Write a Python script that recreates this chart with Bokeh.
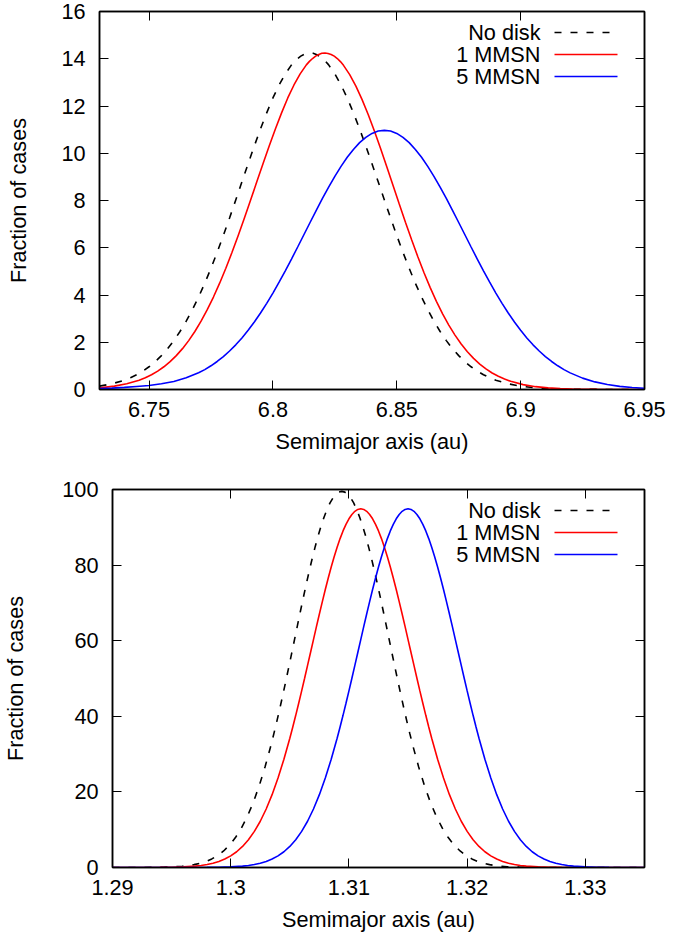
from bokeh.plotting import figure
from bokeh.models import FixedTicker, LinearAxis, Range1d, NumeralTickFormatter
from bokeh.layouts import column
from bokeh.core.properties import value
from bokeh.embed import file_html
from bokeh.resources import INLINE

# ---------------- data ----------------
series_names = ["No disk", "1 MMSN", "5 MMSN"]

# ---- Top panel ----
top_x_nodisk = [6.7300, 6.7350, 6.7400, 6.7425, 6.7450, 6.7475, 6.7500, 6.7525, 6.7550, 6.7575,
                6.7600, 6.7625, 6.7650, 6.7675, 6.7700, 6.7725, 6.7750, 6.7775, 6.7800, 6.7825,
                6.7850, 6.7875, 6.7900, 6.7925, 6.7950, 6.7975, 6.8000, 6.8025, 6.8050, 6.8075,
                6.80875, 6.8100, 6.81125, 6.8125, 6.81375, 6.8150, 6.81625, 6.8175, 6.81875, 6.8200, 6.82125,
                6.8225, 6.8250, 6.8275, 6.8300, 6.8325, 6.8350, 6.8375, 6.8400, 6.8425, 6.8450,
                6.8475, 6.8500, 6.8525, 6.8550, 6.8575, 6.8600, 6.8625, 6.8650, 6.8675, 6.8700,
                6.8725, 6.8750, 6.8775, 6.8800, 6.8825, 6.8850, 6.8875, 6.8900,
                6.8950, 6.9000, 6.9050, 6.9100, 6.9150, 6.9250, 6.9350, 6.9500]
top_y_nodisk = [0.142, 0.240, 0.394, 0.499, 0.626, 0.779, 0.962, 1.179, 1.434, 1.729,
                2.069, 2.455, 2.891, 3.378, 3.914, 4.500, 5.132, 5.807, 6.519, 7.261,
                8.021, 8.791, 9.558, 10.31, 11.03, 11.71, 12.34, 12.89, 13.36, 13.74,
                13.89, 14.01, 14.11, 14.18, 14.23, 14.24, 14.23, 14.18, 14.11, 14.01, 13.89,
                13.74, 13.36, 12.89, 12.34, 11.71, 11.03, 10.31, 9.558, 8.791, 8.021,
                7.261, 6.519, 5.807, 5.132, 4.500, 3.914, 3.378, 2.891, 2.455, 2.069,
                1.729, 1.434, 1.179, 0.962, 0.779, 0.626, 0.499, 0.394,
                0.240, 0.142, 0.081, 0.045, 0.024, 0.006, 0.0015, 0.0]

top_x_1mmsn = [6.7300, 6.7310, 6.7360, 6.7410, 6.7460, 6.7485, 6.7510, 6.7535, 6.7560, 6.7585,
               6.7610, 6.7635, 6.7660, 6.7685, 6.7710, 6.7735, 6.7760, 6.7785, 6.7810, 6.7835,
               6.7860, 6.7885, 6.7910, 6.7935, 6.7960, 6.7985, 6.8010, 6.8035, 6.8060, 6.8085,
               6.8110, 6.8135,
               6.81475, 6.8160, 6.81725, 6.8185, 6.81975, 6.8210, 6.82225, 6.8235, 6.82475, 6.8260, 6.82725,
               6.8285, 6.8310, 6.8335, 6.8360, 6.8385, 6.8410, 6.8435, 6.8460, 6.8485, 6.8510,
               6.8535, 6.8560, 6.8585, 6.8610, 6.8635, 6.8660, 6.8685, 6.8710, 6.8735, 6.8760,
               6.8785, 6.8810, 6.8835, 6.8860, 6.8885, 6.8910, 6.8935, 6.8960,
               6.9010, 6.9060, 6.9110, 6.9160, 6.9210, 6.9310, 6.9410, 6.9500]
top_y_1mmsn = [0.072, 0.081, 0.142, 0.240, 0.394, 0.499, 0.626, 0.779, 0.962, 1.179,
               1.434, 1.729, 2.069, 2.455, 2.891, 3.378, 3.914, 4.500, 5.132, 5.807,
               6.519, 7.261, 8.021, 8.791, 9.558, 10.31, 11.03, 11.71, 12.34, 12.89,
               13.36, 13.74,
               13.89, 14.01, 14.11, 14.18, 14.23, 14.24, 14.22, 14.18, 14.11, 14.01, 13.88,
               13.72, 13.33, 12.84, 12.27, 11.63, 10.93, 10.19, 9.420, 8.637, 7.854,
               7.083, 6.335, 5.620, 4.944, 4.314, 3.733, 3.204, 2.727, 2.302, 1.927,
               1.600, 1.318, 1.076, 0.872, 0.700, 0.558, 0.441, 0.345,
               0.207, 0.120, 0.067, 0.036, 0.019, 0.005, 0.001, 0.0]

top_x_5mmsn = [6.7300, 6.7350, 6.7400, 6.7450, 6.7500, 6.7550, 6.7600, 6.7650, 6.7700,
               6.7725, 6.7750, 6.7775, 6.7800, 6.7825, 6.7850, 6.7875, 6.7900, 6.7925, 6.7950,
               6.7975, 6.8000, 6.8025, 6.8050, 6.8075, 6.8100, 6.8125, 6.8150, 6.8175, 6.8200,
               6.8225, 6.8250, 6.8275, 6.8300, 6.8325, 6.8350, 6.8375, 6.8400, 6.8425, 6.8450,
               6.8475, 6.8500, 6.8525, 6.8550, 6.8575, 6.8600, 6.8625, 6.8650, 6.8675, 6.8700,
               6.8725, 6.8750, 6.8775, 6.8800, 6.8825, 6.8850, 6.8875, 6.8900, 6.8925, 6.8950,
               6.8975, 6.9000, 6.9025, 6.9050, 6.9075, 6.9100, 6.9125, 6.9150, 6.9175, 6.9200,
               6.9250, 6.9300, 6.9350, 6.9400, 6.9450, 6.9500]
top_y_5mmsn = [0.04, 0.06, 0.09, 0.13, 0.17, 0.24, 0.34, 0.50, 0.71,
               0.842, 1.003, 1.186, 1.394, 1.629, 1.891, 2.183, 2.505, 2.856, 3.236,
               3.646, 4.081, 4.541, 5.022, 5.521, 6.032, 6.550, 7.069, 7.583, 8.085,
               8.568, 9.024, 9.446, 9.829, 10.16, 10.45, 10.67, 10.84, 10.94, 10.97,
               10.94, 10.84, 10.67, 10.45, 10.16, 9.829, 9.446, 9.024, 8.568, 8.085,
               7.583, 7.069, 6.550, 6.032, 5.521, 5.022, 4.541, 4.081, 3.646, 3.236,
               2.856, 2.505, 2.183, 1.891, 1.629, 1.394, 1.186, 1.003, 0.842, 0.704,
               0.482, 0.322, 0.210, 0.134, 0.083, 0.050]

# ---- Bottom panel ----
bot_x_nodisk = [1.2900, 1.2914, 1.2924, 1.2934, 1.2944, 1.2954, 1.2959,
                1.2964, 1.2969, 1.2974, 1.2979, 1.2984, 1.2989, 1.2994, 1.2999, 1.3004, 1.3009,
                1.3014, 1.3019, 1.3024, 1.3029, 1.3034,
                1.30365, 1.3039, 1.30415, 1.3044, 1.30465, 1.3049, 1.30515, 1.3054, 1.30565, 1.3059,
                1.30615, 1.3064, 1.30665, 1.3069, 1.30715, 1.3074, 1.30765, 1.3079, 1.30815, 1.3084,
                1.30865, 1.3089, 1.30915, 1.3094, 1.30965, 1.3099, 1.31015, 1.3104, 1.31065, 1.3109,
                1.31115, 1.3114, 1.31165, 1.3119, 1.31215, 1.3124, 1.31265, 1.3129, 1.31315, 1.3134,
                1.31365, 1.3139, 1.31415, 1.3144, 1.31465, 1.3149, 1.31515,
                1.3154, 1.3159, 1.3164, 1.3169, 1.3174, 1.3179, 1.3184, 1.3189, 1.3194, 1.3199,
                1.3204, 1.3209, 1.3214, 1.3219, 1.3224, 1.3229, 1.3234,
                1.3244, 1.3254, 1.3264, 1.3274, 1.3350]
bot_y_nodisk = [0.0, 0.004, 0.012, 0.033, 0.088, 0.218, 0.334,
                0.506, 0.754, 1.105, 1.595, 2.268, 3.174, 4.372, 5.928, 7.916, 10.41,
                13.47, 17.16, 21.52, 26.57, 32.30,
                35.41, 38.66, 42.05, 45.55, 49.16, 52.84, 56.58, 60.35, 64.12, 67.85,
                71.53, 75.11, 78.55, 81.85, 84.94, 87.81, 90.42, 92.74, 94.76, 96.44,
                97.77, 98.73, 99.31, 99.50, 99.31, 98.73, 97.77, 96.44, 94.76, 92.74,
                90.42, 87.81, 84.94, 81.85, 78.55, 75.11, 71.53, 67.85, 64.12, 60.35,
                56.58, 52.84, 49.16, 45.55, 42.05, 38.66, 35.41,
                32.30, 26.57, 21.52, 17.16, 13.47, 10.41, 7.916, 5.928, 4.372, 3.174,
                2.268, 1.595, 1.105, 0.754, 0.506, 0.334, 0.218,
                0.088, 0.033, 0.012, 0.004, 0.0]

bot_x_1mmsn = [1.2900, 1.2920, 1.2930, 1.2940, 1.2950, 1.2960, 1.2970, 1.2975,
               1.2980, 1.2985, 1.2990, 1.2995, 1.3000, 1.3005, 1.3010, 1.3015, 1.3020, 1.3025,
               1.3030, 1.3035, 1.3040, 1.3045, 1.3050,
               1.30525, 1.30550, 1.30575, 1.30600, 1.30625, 1.30650, 1.30675, 1.30700, 1.30725, 1.30750,
               1.30775, 1.30800, 1.30825, 1.30850, 1.30875, 1.30900, 1.30925, 1.30950, 1.30975, 1.31000,
               1.31025, 1.31050, 1.31075, 1.31100, 1.31125, 1.31150, 1.31175, 1.31200, 1.31225, 1.31250,
               1.31275, 1.31300, 1.31325, 1.31350, 1.31375, 1.31400, 1.31425, 1.31450, 1.31475, 1.31500,
               1.31525, 1.31550, 1.31575, 1.31600, 1.31625, 1.31650, 1.31675,
               1.3170, 1.3175, 1.3180, 1.3185, 1.3190, 1.3195, 1.3200, 1.3205, 1.3210, 1.3215,
               1.3220, 1.3225, 1.3230, 1.3235, 1.3240, 1.3245, 1.3250,
               1.3260, 1.3270, 1.3280, 1.3290, 1.3300, 1.3350]
bot_y_1mmsn = [0.0, 0.003, 0.010, 0.026, 0.067, 0.161, 0.367, 0.542,
               0.789, 1.132, 1.602, 2.234, 3.076, 4.170, 5.574, 7.349, 9.554, 12.24,
               15.47, 19.27, 23.66, 28.65, 34.21,
               37.18, 40.26, 43.45, 46.72, 50.06, 53.46, 56.88, 60.30, 63.71, 67.06,
               70.35, 73.53, 76.59, 79.49, 82.21, 84.73, 87.01, 89.04, 90.79, 92.25,
               93.40, 94.23, 94.73, 94.90, 94.73, 94.23, 93.40, 92.25, 90.79, 89.04,
               87.01, 84.73, 82.21, 79.49, 76.59, 73.53, 70.35, 67.06, 63.71, 60.30,
               56.88, 53.46, 50.06, 46.72, 43.45, 40.26, 37.18,
               34.21, 28.65, 23.66, 19.27, 15.47, 12.24, 9.554, 7.349, 5.574, 4.170,
               3.076, 2.234, 1.602, 1.132, 0.789, 0.542, 0.367,
               0.161, 0.067, 0.026, 0.010, 0.003, 0.0]

bot_x_5mmsn = [1.2900, 1.2960, 1.2970, 1.2980, 1.2990, 1.3000, 1.3010, 1.3015,
               1.3020, 1.3025, 1.3030, 1.3035, 1.3040, 1.3045, 1.3050, 1.3055, 1.3060, 1.3065,
               1.3070, 1.3075, 1.3080, 1.3085, 1.3090,
               1.30925, 1.30950, 1.30975, 1.31000, 1.31025, 1.31050, 1.31075, 1.31100, 1.31125, 1.31150,
               1.31175, 1.31200, 1.31225, 1.31250, 1.31275, 1.31300, 1.31325, 1.31350, 1.31375, 1.31400,
               1.31425, 1.31450, 1.31475, 1.31500, 1.31525, 1.31550, 1.31575, 1.31600, 1.31625, 1.31650,
               1.31675, 1.31700, 1.31725, 1.31750, 1.31775, 1.31800, 1.31825, 1.31850, 1.31875, 1.31900,
               1.31925, 1.31950, 1.31975, 1.32000, 1.32025, 1.32050, 1.32075,
               1.3210, 1.3215, 1.3220, 1.3225, 1.3230, 1.3235, 1.3240, 1.3245, 1.3250, 1.3255,
               1.3260, 1.3265, 1.3270, 1.3275, 1.3280, 1.3285, 1.3290,
               1.3300, 1.3310, 1.3320, 1.3330, 1.3340, 1.3350]
bot_y_5mmsn = [0.0, 0.003, 0.010, 0.026, 0.067, 0.161, 0.367, 0.542,
               0.789, 1.132, 1.602, 2.234, 3.076, 4.170, 5.574, 7.349, 9.554, 12.24,
               15.47, 19.27, 23.66, 28.65, 34.21,
               37.18, 40.26, 43.45, 46.72, 50.06, 53.46, 56.88, 60.30, 63.71, 67.06,
               70.35, 73.53, 76.59, 79.49, 82.21, 84.73, 87.01, 89.04, 90.79, 92.25,
               93.40, 94.23, 94.73, 94.90, 94.73, 94.23, 93.40, 92.25, 90.79, 89.04,
               87.01, 84.73, 82.21, 79.49, 76.59, 73.53, 70.35, 67.06, 63.71, 60.30,
               56.88, 53.46, 50.06, 46.72, 43.45, 40.26, 37.18,
               34.21, 28.65, 23.66, 19.27, 15.47, 12.24, 9.554, 7.349, 5.574, 4.170,
               3.076, 2.234, 1.602, 1.132, 0.789, 0.542, 0.367,
               0.161, 0.067, 0.026, 0.010, 0.003, 0.0]

# ---- Axes ----
top_xrange = (6.73, 6.95)
top_yrange = (0, 16)
top_xticks = [6.75, 6.8, 6.85, 6.9, 6.95]
top_xtick_labels = ["6.75", "6.8", "6.85", "6.9", "6.95"]
top_yticks = [0, 2, 4, 6, 8, 10, 12, 14, 16]
top_ytick_labels = ["0", "2", "4", "6", "8", "10", "12", "14", "16"]

bot_xrange = (1.29, 1.335)
bot_yrange = (0, 100)
bot_xticks = [1.29, 1.3, 1.31, 1.32, 1.33]
bot_xtick_labels = ["1.29", "1.3", "1.31", "1.32", "1.33"]
bot_yticks = [0, 20, 40, 60, 80, 100]
bot_ytick_labels = ["0", "20", "40", "60", "80", "100"]

x_title = "Semimajor axis (au)"
y_title = "Fraction of cases"

# ---------------- styling ----------------
FONT = "Liberation Sans"
FS = "21.7px"
COLORS = ["black", "#ff0000", "#0000ff"]
DASHES = ["7 9", "solid", "solid"]
LW = 1.6


def style_axis(ax, ticks, labels, standoff, show_labels=True):
    ax.ticker = FixedTicker(ticks=ticks)
    ax.formatter = NumeralTickFormatter(format="0.[00]")
    ax.major_label_overrides = {t: (l if show_labels else "") for t, l in zip(ticks, labels)}
    ax.major_tick_in = 9
    ax.major_tick_out = 0
    ax.minor_tick_in = 0
    ax.minor_tick_out = 0
    ax.major_tick_line_color = "black"
    ax.major_tick_line_width = 1
    ax.axis_line_color = "black"
    ax.axis_line_width = 1.5
    ax.major_label_standoff = standoff
    ax.major_label_text_font = FONT
    ax.major_label_text_font_size = FS if show_labels else "0px"
    ax.major_label_text_color = "black"
    ax.axis_label_text_font = FONT
    ax.axis_label_text_font_size = FS
    ax.axis_label_text_font_style = "normal"
    ax.axis_label_text_color = "black"


def make_panel(xr, yr, xt, xtl, yt, ytl, curves, left, top, bottom, fw, fh, ylab_standoff):
    p = figure(x_range=Range1d(*xr), y_range=Range1d(*yr),
               frame_width=fw, frame_height=fh,
               min_border_left=left, min_border_right=53,
               min_border_top=top, min_border_bottom=bottom,
               output_backend="svg", toolbar_location=None,
               background_fill_color="white", border_fill_color="white")
    p.frame_align = False
    p.grid.visible = False
    p.outline_line_color = "black"
    p.outline_line_width = 1.5
    p.outline_line_alpha = 1.0

    style_axis(p.xaxis[0], xt, xtl, 12)
    style_axis(p.yaxis[0], yt, ytl, 14)
    p.xaxis[0].axis_label = x_title
    p.xaxis[0].axis_label_standoff = 9
    p.yaxis[0].axis_label = y_title
    p.yaxis[0].axis_label_standoff = ylab_standoff

    ax_top = LinearAxis()
    style_axis(ax_top, xt, xtl, 0, show_labels=False)
    p.add_layout(ax_top, "above")
    ax_right = LinearAxis()
    style_axis(ax_right, yt, ytl, 0, show_labels=False)
    p.add_layout(ax_right, "right")

    for (xs, ys), col, dash in zip(curves, COLORS, DASHES):
        p.line(xs, ys, line_color=col, line_width=LW, line_dash=dash)

    # gnuplot-style key in the top-right corner (text right-aligned, sample on its right)
    x0, x1 = xr
    y0, y1 = yr

    def fx(px):
        return x0 + px / fw * (x1 - x0)

    def fy(py):
        return y1 - py / fh * (y1 - y0)

    rows = [21, 43, 65]
    p.text(x=[fx(fw - 104)] * 3, y=[fy(r) for r in rows], text=series_names,
           text_font=value(FONT), text_font_size=value(FS),
           text_align="right", text_baseline="middle", text_color="black")
    for r, col, dash in zip(rows, COLORS, DASHES):
        p.segment(x0=[fx(fw - 90)], y0=[fy(r)], x1=[fx(fw - 27)], y1=[fy(r)],
                  line_color=col, line_width=LW, line_dash=dash)
    return p


top_curves = [(top_x_nodisk, top_y_nodisk), (top_x_1mmsn, top_y_1mmsn), (top_x_5mmsn, top_y_5mmsn)]
bot_curves = [(bot_x_nodisk, bot_y_nodisk), (bot_x_1mmsn, bot_y_1mmsn), (bot_x_5mmsn, bot_y_5mmsn)]

p1 = make_panel(top_xrange, top_yrange, top_xticks, top_xtick_labels, top_yticks, top_ytick_labels,
                top_curves, left=99, top=11, bottom=81, fw=545, fh=378, ylab_standoff=27)
p2 = make_panel(bot_xrange, bot_yrange, bot_xticks, bot_xtick_labels, bot_yticks, bot_ytick_labels,
                bot_curves, left=112, top=19, bottom=70, fw=532, fh=378, ylab_standoff=31)

layout = column(p1, p2, spacing=0)
open("out.html", "w").write(file_html(layout, INLINE))
